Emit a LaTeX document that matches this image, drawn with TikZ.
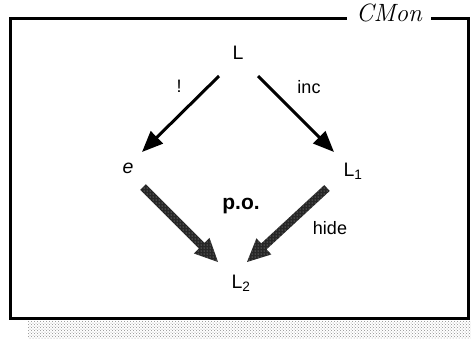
\documentclass[tikz,border=0pt]{standalone}
\usepackage{fontspec}
\setsansfont{Liberation Sans}
\usetikzlibrary{arrows.meta,calc,patterns}
\begin{document}
\begin{tikzpicture}[x=1pt,y=-1pt,
  obj/.style={font=\sffamily\fontsize{19.5}{22}\selectfont, inner sep=1pt},
  lbl/.style={font=\sffamily\fontsize{18}{20}\selectfont, inner sep=1pt},
  plainarrow/.style={line width=3pt, -{Triangle[length=21pt,width=17pt]}},
  fatfill/.style={fill=black!85},
  fatdots/.style={pattern=dots, pattern color=black!30},
]
\useasboundingbox (0,0) rectangle (471,338);
% shadow
\fill[pattern=crosshatch dots, pattern color=black!45] (28,321) rectangle (471,338);
% frame
\node[font=\rmfamily\itshape\fontsize{25}{28}\selectfont, inner sep=0pt] (title) at (389,13) {CMon};
\draw[line width=3pt] ($(title.west)+(-9,5)$) -- (10,18) -- (10,318) -- (468,318) -- (468,18) -- ($(title.east)+(9,5)$);
% nodes
\node[obj] (L) at (238,53) {L};
\node[obj] (e) at (128,168) {\itshape e};
\node[obj] (L1) at (353,171) {L\textsubscript{1}};
\node[obj] (L2) at (241,283) {L\textsubscript{2}};
\node[font=\sffamily\bfseries\fontsize{21}{24}\selectfont] (po) at (241,206) {p.o.};
% upper arrows
\coordinate (a1s) at (219,76); \coordinate (a1t) at (142,152);
\coordinate (a2s) at (258,76); \coordinate (a2t) at (334,152);
\draw[plainarrow] (a1s) -- (a1t);
\draw[plainarrow] (a2s) -- (a2t);
\node[lbl] (bang) at (179,86) {!};
\node[lbl] (inc) at (309,87) {inc};
% lower fat arrows
\coordinate (b1s) at (143,187); \coordinate (b1t) at (218,262);
\coordinate (b2s) at (327,188); \coordinate (b2t) at (247,262);
\foreach \s/\t in {b1s/b1t,b2s/b2t}{
  \coordinate (h) at ($(\t)!23pt!(\s)$);
  \path[fatfill] ($(\s)!4pt!90:(\t)$) -- ($(h)!4pt!-90:(\s)$) -- ($(h)!11pt!-90:(\s)$) -- (\t)
     -- ($(h)!11pt!90:(\s)$) -- ($(h)!4pt!90:(\s)$) -- ($(\s)!4pt!-90:(\t)$) -- cycle;
  \path[fatdots] ($(\s)!4pt!90:(\t)$) -- ($(h)!4pt!-90:(\s)$) -- ($(h)!11pt!-90:(\s)$) -- (\t)
     -- ($(h)!11pt!90:(\s)$) -- ($(h)!4pt!90:(\s)$) -- ($(\s)!4pt!-90:(\t)$) -- cycle;
}
\node[lbl] (hide) at (330,228) {hide};
\end{tikzpicture}
\end{document}
